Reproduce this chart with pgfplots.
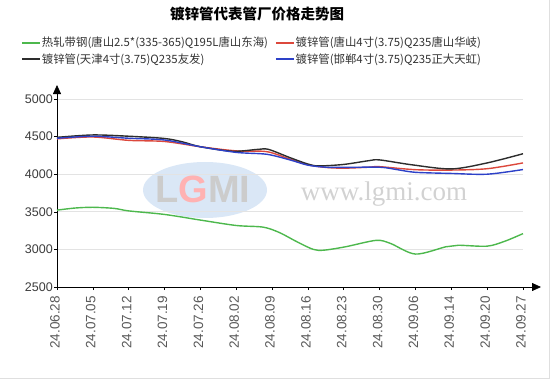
\documentclass[border=0pt]{standalone}
\usepackage{pgfplots}
\pgfplotsset{compat=1.18}
\usepackage{fontspec}
\setmainfont{Liberation Sans}
\newfontfamily\cjk{Noto Sans CJK SC}
\newfontfamily\wmserif{Liberation Serif}
\usetikzlibrary{arrows.meta}
\definecolor{cgreen}{RGB}{77,184,77}
\definecolor{cred}{RGB}{220,72,60}
\definecolor{cblack}{RGB}{45,45,45}
\definecolor{cblue}{RGB}{45,65,200}
\definecolor{wmblue}{RGB}{218,231,246}
\definecolor{ticktext}{RGB}{60,60,60}
\begin{document}
\begin{tikzpicture}
\useasboundingbox (-57bp,-95bp) rectangle (497bp,287bp);
\draw[gray!25, line width=1bp] (-57bp,-91bp) -- (492bp,-91bp) -- (492bp,287bp);
% watermark
\fill[wmblue] (148bp,97bp) ellipse (62bp and 28bp);
\node[font=\fontsize{38bp}{38bp}\selectfont\bfseries, text=gray!40] at (146bp,98bp) {L\textcolor{red!30}{G}MI};
\node[font=\wmserif\fontsize{27bp}{27bp}\selectfont, text=gray!35] at (327bp,93bp) {www.lgmi.com};
\begin{axis}[
  scale only axis, width=466bp, height=188bp,
  xmin=0, xmax=13, ymin=2500, ymax=5000,
  axis lines=left,
  x axis line style={-{Triangle[length=9bp,width=8bp]}, shorten >=-18bp},
  y axis line style={-{Triangle[length=9bp,width=8bp]}, shorten >=-14bp},
  axis line style={black, line width=0.8bp},
  xtick={0,...,13},
  xticklabels={24.06.28,24.07.05,24.07.12,24.07.19,24.07.26,24.08.02,24.08.09,24.08.16,24.08.23,24.08.30,24.09.06,24.09.14,24.09.20,24.09.27},
  ytick={2500,3000,...,5000},
  tick align=outside, major tick length=3bp,
  tick style={black, line width=0.6bp},
  ymajorgrids, grid style={gray!22, line width=0.9bp},
  /pgf/number format/assume math mode=true,
  /pgf/number format/1000 sep={},
  yticklabel style={font=\fontsize{12.5bp}{12.5bp}\selectfont, text=ticktext, inner sep=1bp},
  xticklabel style={yshift=-5bp, xshift=-2bp, rotate=90, anchor=east, font=\fontsize{13.5bp}{13.5bp}\selectfont, text=ticktext!85, inner sep=1bp},
  legend columns=2,
  legend style={draw=none, fill=none, at={(axis description cs:-0.077,1.335)}, anchor=north west,
    inner sep=0pt, font=\cjk\fontsize{11.4bp}{13bp}\selectfont, row sep=3bp,
    /tikz/every even column/.append style={column sep=6bp},
    nodes={inner sep=1bp, text=black!80}},
  legend cell align=left,
  legend image code/.code={\draw[#1, line width=1.6bp] (0bp,0bp) -- (18bp,0bp);},
  every axis plot/.append style={line width=1.4bp, smooth},
  clip=false,
]
\addplot[cgreen] coordinates {
(0,3522) (0.5,3550) (1,3560) (1.6,3545) (2,3512) (3,3465) (4,3390) (5,3318) (5.75,3296)
(6.2,3225) (6.7,3100) (7.15,3000) (7.45,2990) (8.05,3035) (8.9,3120) (9.3,3080) (10,2938)
(10.85,3035) (11.2,3055) (12,3043) (12.5,3110) (13,3210)};
\addlegendentry{热轧带钢(唐山2.5*(335-365)Q195L唐山东海)}
\addplot[cred] coordinates {
(0,4470) (1,4495) (2,4450) (3,4435) (4,4365) (5,4310) (5.85,4300) (6.5,4200) (7,4125)
(7.5,4090) (8,4080) (8.7,4093) (9,4100) (10,4060) (11,4055) (12,4073) (13,4150)};
\addlegendentry{镀锌管(唐山4寸(3.75)Q235唐山华岐)}
\addplot[cblack] coordinates {
(0,4490) (1,4522) (2,4505) (3,4475) (3.5,4430) (4,4365) (4.9,4305) (5.6,4330) (5.9,4330)
(6.5,4220) (7,4135) (7.3,4110) (8,4130) (8.7,4180) (9,4190) (9.9,4125) (11,4070) (12,4150) (13,4272)};
\addlegendentry{镀锌管(天津4寸(3.75)Q235友发)}
\addplot[cblue] coordinates {
(0,4478) (1,4505) (2,4478) (3,4455) (4,4365) (5,4290) (5.85,4265) (6.5,4190) (7,4120)
(7.5,4093) (8,4090) (9,4093) (9.5,4060) (10,4025) (11,4010) (12,4000) (13,4062)};
\addlegendentry{镀锌管(邯郸4寸(3.75)Q235正大天虹)}
\end{axis}
\node[font=\cjk\bfseries\fontsize{14.5bp}{14.5bp}\selectfont] at (200bp,273bp) {镀锌管代表管厂价格走势图};
\end{tikzpicture}
\end{document}
